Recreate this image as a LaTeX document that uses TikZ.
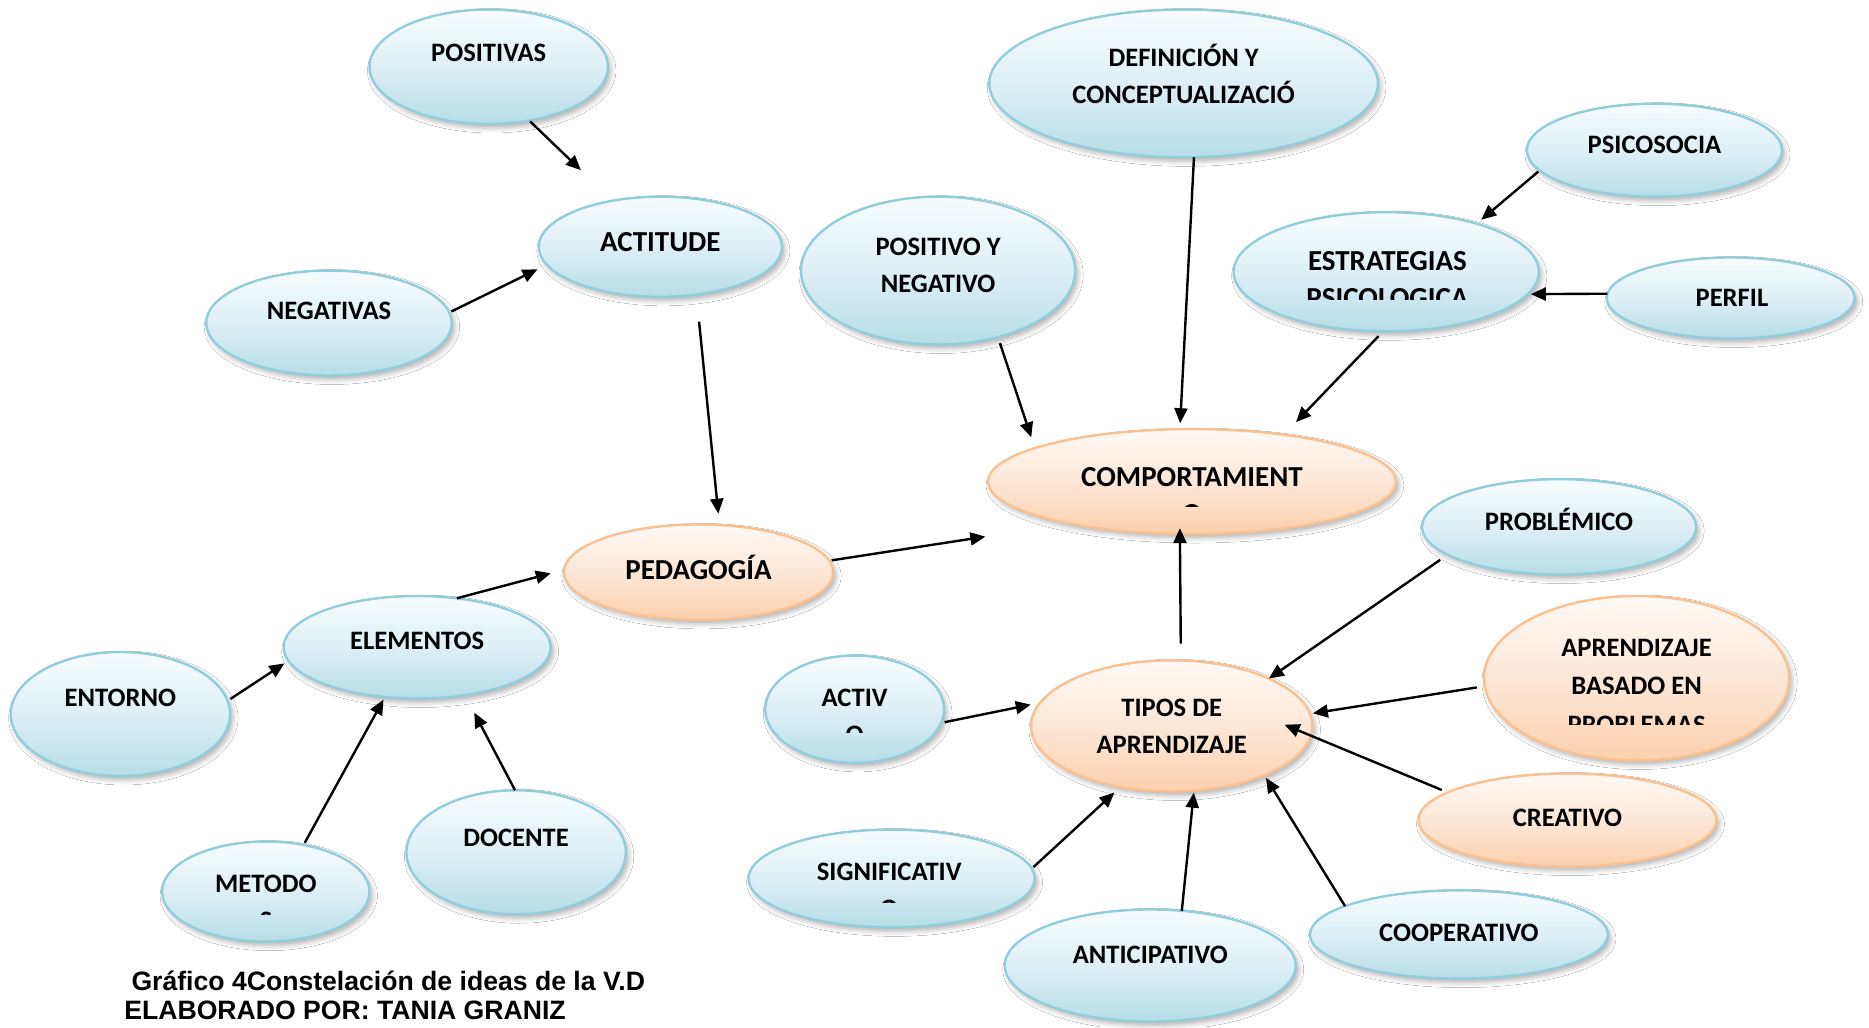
\documentclass[tikz,border=0pt]{standalone}
\usepackage{fontspec}
\usetikzlibrary{shapes.geometric, arrows.meta, shadows.blur}
\newfontfamily\carl{Carlito}
\newfontfamily\capf{Liberation Sans}
\definecolor{bline}{HTML}{92CDDC}
\definecolor{btop}{HTML}{F7FCFD}
\definecolor{bmid}{HTML}{DDF0F5}
\definecolor{bbot}{HTML}{B6DDE8}
\definecolor{oline}{HTML}{FAC090}
\definecolor{otop}{HTML}{FFF9F5}
\definecolor{omid}{HTML}{FDE7D6}
\definecolor{obot}{HTML}{FBD0AE}
\tikzset{
  bub/.style={ellipse, draw=bline, line width=1.2pt, top color=btop, bottom color=bbot, middle color=bmid,
    inner sep=0pt, outer sep=0pt,
    blur shadow={shadow xshift=1.5pt, shadow yshift=-2pt, shadow blur radius=2.5pt, shadow opacity=30}},
  obub/.style={bub, draw=oline, top color=otop, bottom color=obot, middle color=omid},
  sz/.style 2 args={minimum width=#1*1.192pt, minimum height=#2*1.192pt},
  lbl/.style={font=\carl\bfseries\fontsize{13.3}{16}\selectfont, anchor=base, inner sep=0pt, outer sep=0pt},
  lblb/.style={lbl, font=\carl\bfseries\fontsize{14.5}{17}\selectfont},
  arr/.style={-{Triangle[length=7.5pt,width=6.5pt]}, line width=1.2pt, black},
  capt/.style={font=\capf\bfseries\fontsize{13.3}{16}\selectfont, anchor=base west, inner sep=0pt}
}
\begin{document}
\begin{tikzpicture}[x=0.596pt, y=-0.596pt]
\fill[white] (0,0) rectangle (1568,862);
\useasboundingbox (0,0) rectangle (1568,862);
% ellipses
\node[bub, sz={100}{48}] (pos) at (410,56) {};
\node[bub, sz={102}{42}] (act) at (554,207) {};
\node[bub, sz={103}{44}] (neg) at (276,271) {};
\node[bub, sz={115}{62}] (pyn) at (787,227) {};
\node[bub, sz={163}{62}] (def) at (993,70) {};
\node[bub, sz={107}{39}] (psi) at (1388,126) {};
\node[bub, sz={128}{50}] (est) at (1163,228) {};
\node[bub, sz={104}{34}] (per) at (1452,250) {};
\node[obub, sz={171}{44}] (com) at (1000,404) {};
\node[bub, sz={115}{40}] (pro) at (1308,442) {};
\node[obub, sz={128}{69}] (abp) at (1373,569) {};
\node[obub, sz={125}{39}] (cre) at (1315,688) {};
\node[obub, sz={118}{55}] (tip) at (983,609) {};
\node[bub, sz={75}{45}] (acv) at (717,595) {};
\node[bub, sz={120}{41}] (sig) at (748,737) {};
\node[bub, sz={122}{47}] (ant) at (965,810) {};
\node[bub, sz={125}{37}] (coo) at (1224,784) {};
\node[obub, sz={113}{40}] (ped) at (586,480) {};
\node[bub, sz={112}{43}] (ele) at (350,543) {};
\node[bub, sz={92}{52}] (ent) at (101,599) {};
\node[bub, sz={87}{42}] (met) at (223,748) {};
\node[bub, sz={92}{52}] (doc) at (433,715) {};
% labels
\node[lbl] (tpos) at (410,52) {POSITIVAS};
\node[lblb] (tact) at (554,211) {ACTITUDE};
\node[lbl] (tneg) at (276,268) {NEGATIVAS};
\node[lbl] (tpyn1) at (787,214) {POSITIVO Y};
\node[lbl] (tpyn2) at (787,245) {NEGATIVO};
\node[lbl] (tdef1) at (993,56) {DEFINICIÓN Y};
\node[lbl] (tdef2) at (993,87) {CONCEPTUALIZACIÓ};
\node[lbl] (tpsi) at (1388,129) {PSICOSOCIA};
\node[lblb] (test1) at (1164,227) {ESTRATEGIAS};
\begin{scope}
  \clip (1040,236) rectangle (1290,251);
  \node[lblb] (test2) at (1164,258) {PSICOLOGICA};
\end{scope}
\node[lbl] (tper) at (1453,257) {PERFIL};
\node[lblb] (tcom1) at (1000,408) {COMPORTAMIENT};
\begin{scope}
  \clip (980,418) rectangle (1020,424.8);
  \node[lblb] (tcom2) at (1000,439) {O};
\end{scope}
\node[lbl] (tpro) at (1308,445) {PROBLÉMICO};
\node[lbl] (tabp1) at (1373,551) {APRENDIZAJE};
\node[lbl] (tabp2) at (1373,583) {BASADO EN};
\begin{scope}
  \clip (1250,594) rectangle (1500,608);
  \node[lbl] (tabp3) at (1373,615) {PROBLEMAS};
\end{scope}
\node[lbl] (tcre) at (1315,693) {CREATIVO};
\node[lbl] (ttip1) at (983,601) {TIPOS DE};
\node[lbl] (ttip2) at (983,632) {APRENDIZAJE};
\node[lbl] (tacv1) at (717,593) {ACTIV};
\begin{scope}
  \clip (690,605) rectangle (745,614.5);
  \node[lbl] (tacv2) at (717,624) {O};
\end{scope}
\node[lbl] (tsig1) at (746,739) {SIGNIFICATIV};
\begin{scope}
  \clip (720,750) rectangle (770,756.9);
  \node[lbl] (tsig2) at (746,770) {O};
\end{scope}
\node[lbl] (tant) at (965,808) {ANTICIPATIVO};
\node[lbl] (tcoo) at (1224,790) {COOPERATIVO};
\node[lblb] (tped) at (586,486) {PEDAGOGÍA};
\node[lbl] (tele) at (350,545) {ELEMENTOS};
\node[lbl] (tent) at (101,593) {ENTORNO};
\node[lbl] (tmet1) at (223,749) {METODO};
\begin{scope}
  \clip (200,760) rectangle (246,767.3);
  \node[lbl] (tmet2) at (223,780) {S};
\end{scope}
\node[lbl] (tdoc) at (433,710) {DOCENTE};
% connectors
\draw[arr, shorten <=0.6pt, shorten >=22pt] (pos.-53.7) -- (act.136.3);
\draw[arr, shorten <=1.2pt, shorten >=5.2pt] (neg.5.8) -- (act.189.1);
\draw[arr, shorten <=13.6pt, shorten >=5.7pt] (act.-53.5) -- (ped.66.8);
\draw[arr, shorten >=6.8pt] (ele.51.8) -- (ped.179);
\draw[arr, shorten <=1.7pt, shorten >=2.4pt] (ent.7.3) -- (ele.186.3);
\draw[arr, shorten <=1.3pt, shorten >=1.5pt] (met.51.7) -- (ele.237.4);
\draw[arr, shorten >=9.9pt] (doc.91.7) -- (ele.-45.8);
\draw[arr, shorten <=1.2pt, shorten >=42.8pt] (ped.5.6) -- (com.199.7);
\draw[arr, shorten <=3.2pt, shorten >=5.7pt] (pyn.-48.6) -- (com.168);
\draw[arr, shorten >=3pt] (def.-82.6) -- (com.103.2);
\draw[arr, shorten <=0.9pt, shorten >=3.1pt] (psi.190.8) -- (est.28.9);
\draw[arr, shorten >=1.6pt] (per.178.9) -- (est.-9.7);
\draw[arr, shorten <=3.3pt, shorten >=8.8pt] (est.-93.7) -- (com.27.1);
\draw[arr, shorten <=8.4pt, shorten >=-2.9pt] (tip.82.7) -- (com.257.2);
\draw[arr, shorten <=4.6pt] (pro.194.4) -- (tip.26.9);
\draw[arr, shorten <=4pt, shorten >=1.5pt] (abp.183.1) -- (tip.5.7);
\draw[arr, shorten <=3.2pt, shorten >=-14.2pt] (cre.167.2) -- (tip.-4.9);
\draw[arr, shorten >=1.5pt] (coo.166.7) -- (tip.-28.6);
\draw[arr, shorten >=1pt] (ant.60.3) -- (tip.-71.5);
\draw[arr, shorten <=1.2pt, shorten >=4.1pt] (sig.4.8) -- (tip.230.9);
\draw[arr, shorten <=1.8pt, shorten >=4.8pt] (acv.-9.9) -- (tip.170.4);
% caption
\node[capt] (cap1) at (110,831) {Gráfico 4Constelación de ideas de la V.D};
\node[capt] (cap2) at (104,855) {ELABORADO POR: TANIA GRANIZ};
\end{tikzpicture}
\end{document}
